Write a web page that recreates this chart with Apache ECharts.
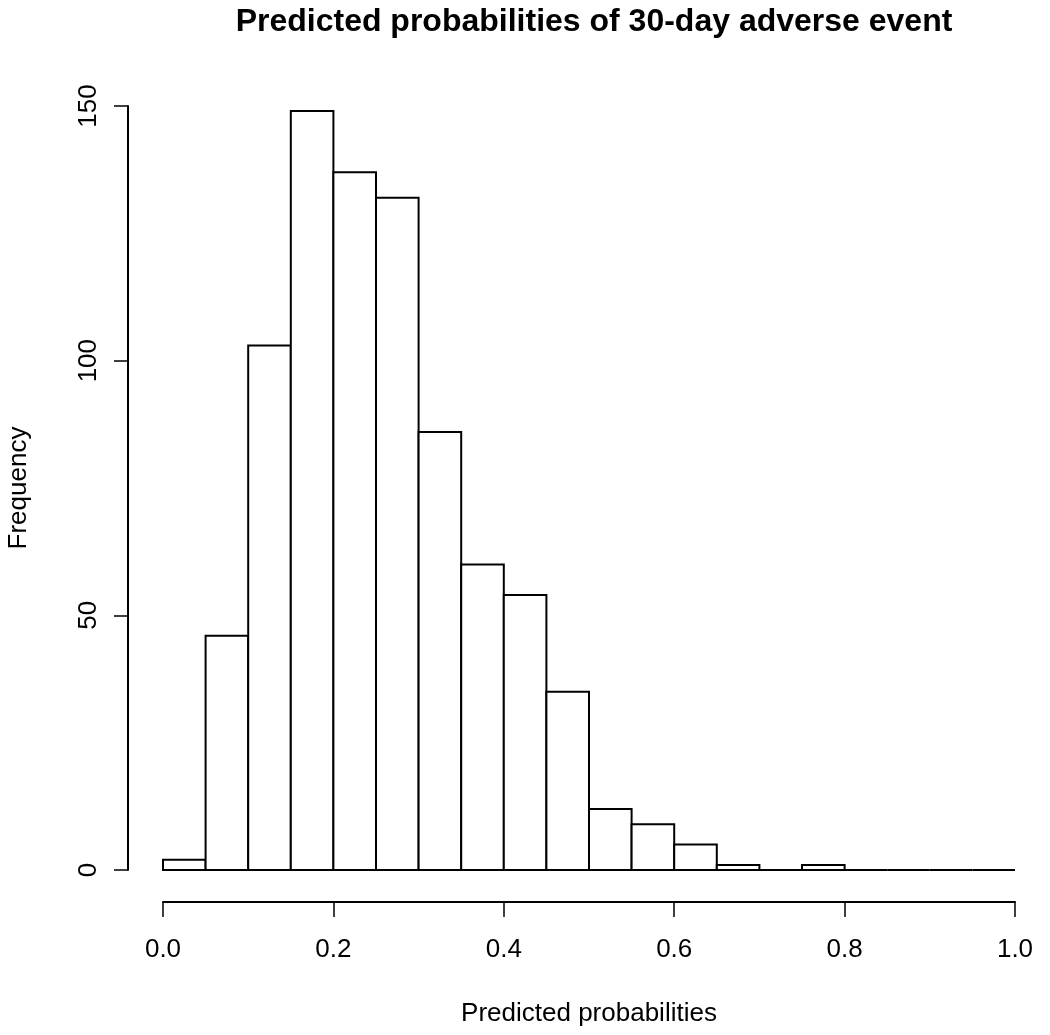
<!DOCTYPE html>
<html>
<head>
<meta charset="utf-8">
<script src="https://cdn.jsdelivr.net/npm/echarts@6/dist/echarts.min.js"></script>
<style>html,body{margin:0;padding:0;background:#fff;}#c{width:1050px;height:1035px;}</style>
</head>
<body>
<div id="c"></div>
<script>
const binStarts = [0.00,0.05,0.10,0.15,0.20,0.25,0.30,0.35,0.40,0.45,0.50,0.55,0.60,0.65,0.70,0.75,0.80,0.85,0.90,0.95];
const binEnds   = [0.05,0.10,0.15,0.20,0.25,0.30,0.35,0.40,0.45,0.50,0.55,0.60,0.65,0.70,0.75,0.80,0.85,0.90,0.95,1.00];
const counts    = [2,46,103,149,137,132,86,60,54,35,12,9,5,1,0,1,0,0,0,0];
const xTicks = [0,0.2,0.4,0.6,0.8,1.0];
const yTicks = [0,50,100,150];

const data = binStarts.map((s,i)=>[s, binEnds[i], counts[i]]);
const font = 'Liberation Sans, Arial, sans-serif';
const chart = echarts.init(document.getElementById('c'));
chart.setOption({
  backgroundColor:'#fff',
  animation:false,
  title:{text:'Predicted probabilities of 30-day adverse event', left:589, top:1, textAlign:'center',
    textStyle:{fontFamily:font, fontWeight:'bold', fontSize:32, color:'#000'}},
  grid:{left:163, right:35, top:106, bottom:165, containLabel:false, outerBoundsMode:'none'},
  xAxis:{type:'value', min:0, max:1, interval:0.2, offset:32,
    axisLine:{show:true, onZero:false, lineStyle:{color:'#000', width:2}},
    axisTick:{show:true, length:15, lineStyle:{color:'#000', width:1.5}},
    axisLabel:{margin:35, fontFamily:font, fontSize:26, color:'#000', formatter:v=>v.toFixed(1)},
    splitLine:{show:false},
    name:'Predicted probabilities', nameLocation:'middle', nameGap:99, nameMoveOverlap:false,
    nameTextStyle:{fontFamily:font, fontSize:26, color:'#000'}},
  yAxis:{type:'value', min:0, max:150, interval:50, offset:35,
    axisLine:{show:true, onZero:false, lineStyle:{color:'#000', width:2}},
    axisTick:{show:true, length:14, lineStyle:{color:'#000', width:1.5}},
    axisLabel:{margin:26, rotate:90, fontFamily:font, fontSize:26, color:'#000'},
    splitLine:{show:false},
    name:'Frequency', nameLocation:'middle', nameGap:96, nameMoveOverlap:false,
    nameTextStyle:{fontFamily:font, fontSize:26, color:'#000'}},
  series:[{
    type:'custom',
    data:data,
    encode:{x:[0,1], y:2},
    renderItem:function(params, api){
      const p0 = api.coord([api.value(0), api.value(2)]);
      const p1 = api.coord([api.value(1), 0]);
      return {type:'rect', shape:{x:p0[0], y:p0[1], width:p1[0]-p0[0], height:p1[1]-p0[1]},
        style:{fill:'#fff', stroke:'#000', lineWidth:2}};
    }
  }]
});
</script>
</body>
</html>
